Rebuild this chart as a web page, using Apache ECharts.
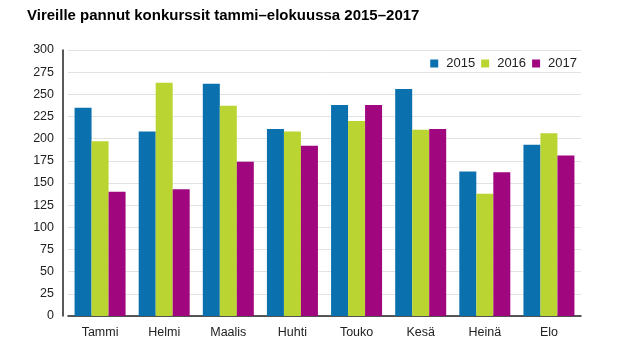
<!DOCTYPE html>
<html>
<head>
<meta charset="utf-8">
<script src="https://cdn.jsdelivr.net/npm/echarts@6/dist/echarts.min.js"></script>
<style>
  html, body { margin: 0; padding: 0; background: #fff; }
  #chart { width: 621px; height: 351px; }
</style>
</head>
<body>
<div id="chart"></div>
<script>
// Data
const months = ["Tammi", "Helmi", "Maalis", "Huhti", "Touko", "Kesä", "Heinä", "Elo"]
const years = ["2015", "2016", "2017"]
const values2015 = [235, 208, 262, 211, 238, 256, 163, 193]
const values2016 = [197, 263, 237, 208, 220, 210, 138, 206]
const values2017 = [140, 143, 174, 192, 238, 211, 162, 181]
const colors = ["#0a70ae", "#bad532", "#a0077f"]

const chart = echarts.init(document.getElementById("chart"))

const seriesData = [values2015, values2016, values2017]

const option = {
    animation: false,
    textStyle: { fontFamily: "Liberation Sans, Arial, sans-serif" },
    title: {
        text: "Vireille pannut konkurssit tammi–elokuussa 2015–2017",
        left: 22,
        top: 3,
        textStyle: { fontSize: 15, fontWeight: "bold", color: "#000" },
    },
    legend: {
        right: 42,
        top: 55,
        itemWidth: 8,
        itemHeight: 8,
        itemGap: 6,
        icon: "rect",
        backgroundColor: "#fff",
        padding: [2, 2],
        textStyle: { fontSize: 13, color: "#222", padding: [0, 0, 0, 3] },
        data: years,
    },
    grid: {
        left: 68,
        right: 40,
        top: 50,
        bottom: 35,
    },
    xAxis: {
        type: "category",
        data: months,
        axisTick: { show: false },
        axisLine: { lineStyle: { color: "#222", width: 1.5 } },
        axisLabel: { fontSize: 12.5, color: "#222", margin: 10 },
    },
    yAxis: {
        type: "value",
        min: 0,
        max: 300,
        interval: 25,
        offset: 5,
        axisLine: { show: true, lineStyle: { color: "#222", width: 1.5 } },
        axisTick: { show: false },
        axisLabel: { fontSize: 12.5, color: "#222", margin: 9 },
        splitLine: { lineStyle: { color: "#e2e2e2" } },
    },
    series: years.map((y, i) => ({
        name: y,
        type: "bar",
        barWidth: 17,
        barGap: "0%",
        data: seriesData[i],
        itemStyle: { color: colors[i] },
    })),
}

chart.setOption(option)
</script>
</body>
</html>
